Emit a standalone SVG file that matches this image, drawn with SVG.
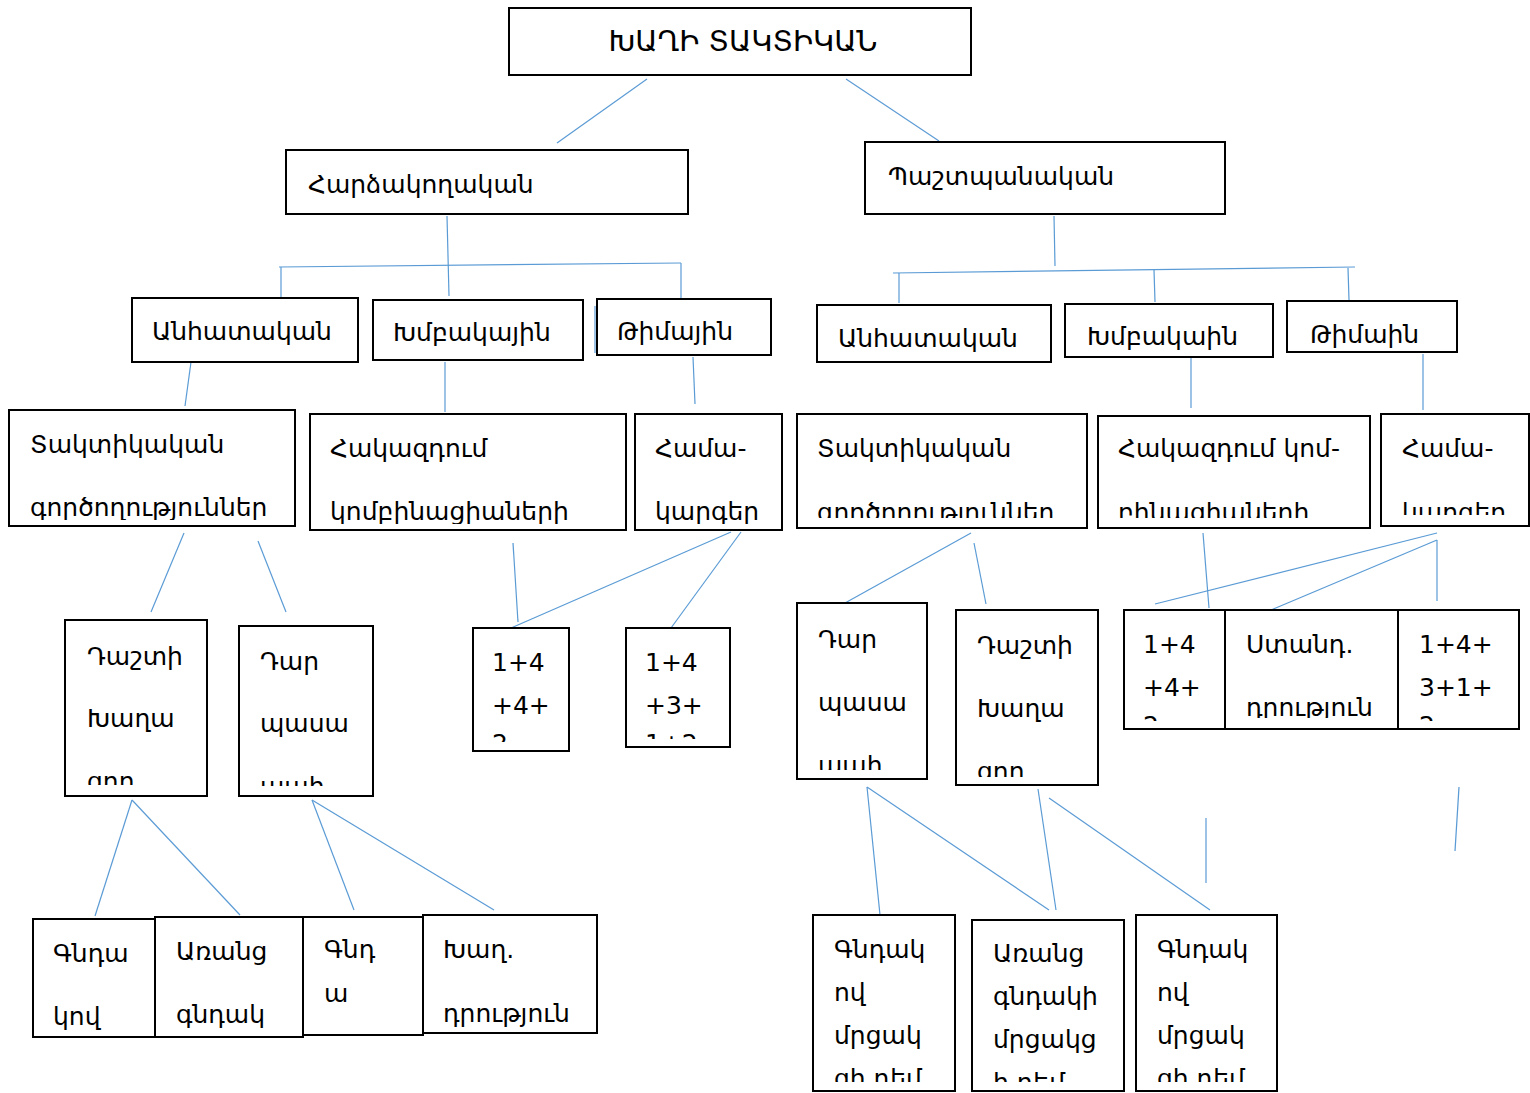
<svg xmlns="http://www.w3.org/2000/svg" width="1530" height="1093" viewBox="0 0 1530 1093">
<style>
.b{fill:#fff;stroke:#000;stroke-width:2}
.t{font-family:"DejaVu Sans","Noto Sans",sans-serif;font-size:25px;fill:#000}
.c line{stroke:#5b9bd5;stroke-width:1.2}
</style>
<defs>
<clipPath id="k1"><rect x="9" y="410" width="286" height="110"/></clipPath>
<clipPath id="k2"><rect x="310" y="414" width="316" height="110"/></clipPath>
<clipPath id="k3"><rect x="635" y="414" width="147" height="110"/></clipPath>
<clipPath id="k4"><rect x="797" y="414" width="290" height="104"/></clipPath>
<clipPath id="k5"><rect x="1098" y="416" width="272" height="102"/></clipPath>
<clipPath id="k6"><rect x="1381" y="414" width="148" height="101"/></clipPath>
<clipPath id="k7"><rect x="65" y="620" width="142" height="165"/></clipPath>
<clipPath id="k8"><rect x="239" y="626" width="134" height="160"/></clipPath>
<clipPath id="k9"><rect x="473" y="628" width="96" height="114"/></clipPath>
<clipPath id="k10"><rect x="626" y="628" width="104" height="111"/></clipPath>
<clipPath id="k11"><rect x="797" y="603" width="130" height="167"/></clipPath>
<clipPath id="k12"><rect x="956" y="610" width="142" height="167"/></clipPath>
<clipPath id="k13"><rect x="1124" y="610" width="101" height="111"/></clipPath>
<clipPath id="k14"><rect x="1225" y="610" width="173" height="108"/></clipPath>
<clipPath id="k15"><rect x="1398" y="610" width="121" height="111"/></clipPath>
<clipPath id="k16"><rect x="813" y="915" width="142" height="167"/></clipPath>
<clipPath id="k17"><rect x="972" y="920" width="152" height="162"/></clipPath>
<clipPath id="k18"><rect x="1136" y="915" width="141" height="167"/></clipPath>
</defs>

<g id="connectors" class="c">
<line x1="647" y1="79" x2="557" y2="143"/>
<line x1="846" y1="79" x2="939" y2="141"/>
<line x1="447" y1="216" x2="449" y2="296"/>
<line x1="279" y1="267" x2="681" y2="263"/>
<line x1="281" y1="267" x2="281" y2="297"/>
<line x1="681" y1="263" x2="681" y2="299"/>
<line x1="595" y1="306" x2="595" y2="353"/>
<line x1="1054" y1="216" x2="1055" y2="266"/>
<line x1="893" y1="273" x2="1355" y2="267"/>
<line x1="899" y1="273" x2="899" y2="303"/>
<line x1="1154" y1="270" x2="1155" y2="302"/>
<line x1="1348" y1="268" x2="1349" y2="300"/>
<line x1="191" y1="362" x2="185" y2="406"/>
<line x1="445" y1="362" x2="445" y2="412"/>
<line x1="693" y1="357" x2="695" y2="404"/>
<line x1="1191" y1="357" x2="1191" y2="408"/>
<line x1="1423" y1="354" x2="1423" y2="410"/>
<line x1="184" y1="533" x2="151" y2="612"/>
<line x1="258" y1="541" x2="286" y2="612"/>
<line x1="513" y1="543" x2="518" y2="622"/>
<line x1="731" y1="532" x2="511" y2="628"/>
<line x1="741" y1="532" x2="671" y2="628"/>
<line x1="971" y1="533" x2="845" y2="603"/>
<line x1="974" y1="543" x2="986" y2="604"/>
<line x1="1203" y1="533" x2="1209" y2="608"/>
<line x1="1437" y1="533" x2="1155" y2="604"/>
<line x1="1437" y1="540" x2="1271" y2="610"/>
<line x1="1437" y1="540" x2="1437" y2="601"/>
<line x1="132" y1="800" x2="95" y2="916"/>
<line x1="132" y1="800" x2="240" y2="915"/>
<line x1="312" y1="800" x2="354" y2="910"/>
<line x1="312" y1="800" x2="494" y2="910"/>
<line x1="867" y1="787" x2="880" y2="915"/>
<line x1="867" y1="787" x2="1049" y2="910"/>
<line x1="1038" y1="789" x2="1056" y2="910"/>
<line x1="1049" y1="798" x2="1210" y2="910"/>
<line x1="1206" y1="818" x2="1206" y2="883"/>
<line x1="1459" y1="787" x2="1455" y2="851"/>
</g>

<g id="root"><rect class="b" x="509" y="8" width="462" height="67"/><text class="t" x="743" y="51" text-anchor="middle" style="font-size:29px">ԽԱՂԻ ՏԱԿՏԻԿԱՆ</text></g>
<g id="attack"><rect class="b" x="286" y="150" width="402" height="64"/><text class="t" x="308" y="193">Հարձակողական</text></g>
<g id="defense"><rect class="b" x="865" y="142" width="360" height="72"/><text class="t" x="888" y="185">Պաշտպանական</text></g>

<g id="a-ind"><rect class="b" x="132" y="298" width="226" height="64"/><text class="t" x="152" y="340">Անհատական</text></g>
<g id="a-grp"><rect class="b" x="373" y="300" width="210" height="60"/><text class="t" x="393" y="341">Խմբակային</text></g>
<g id="a-team"><rect class="b" x="597" y="299" width="174" height="56"/><text class="t" x="617" y="340">Թիմային</text></g>
<g id="d-ind"><rect class="b" x="817" y="305" width="234" height="57"/><text class="t" x="838" y="347">Անհատական</text></g>
<g id="d-grp"><rect class="b" x="1065" y="304" width="208" height="53"/><text class="t" x="1087" y="345">Խմբակաին</text></g>
<g id="d-team"><rect class="b" x="1287" y="301" width="170" height="51"/><text class="t" x="1310" y="343">Թիմաին</text></g>

<g id="a-tact"><rect class="b" x="9" y="410" width="286" height="116"/><text class="t" clip-path="url(#k1)"><tspan x="30" y="453">Տակտիկական</tspan><tspan x="30" y="516">գործողություններ</tspan></text></g>
<g id="a-counter"><rect class="b" x="310" y="414" width="316" height="116"/><text class="t" clip-path="url(#k2)"><tspan x="330" y="457">Հակազդում</tspan><tspan x="330" y="520">կոմբինացիաների</tspan></text></g>
<g id="a-sys"><rect class="b" x="635" y="414" width="147" height="116"/><text class="t" clip-path="url(#k3)"><tspan x="655" y="457">Համա-</tspan><tspan x="655" y="520">կարգեր</tspan></text></g>
<g id="d-tact"><rect class="b" x="797" y="414" width="290" height="114"/><text class="t" clip-path="url(#k4)"><tspan x="817" y="457">Տակտիկական</tspan><tspan x="817" y="521">գործողություններ</tspan></text></g>
<g id="d-counter"><rect class="b" x="1098" y="416" width="272" height="112"/><text class="t" clip-path="url(#k5)"><tspan x="1118" y="457">Հակազդում կոմ-</tspan><tspan x="1118" y="521">բինացիաների</tspan></text></g>
<g id="d-sys"><rect class="b" x="1381" y="414" width="148" height="112"/><text class="t" clip-path="url(#k6)"><tspan x="1402" y="457">Համա-</tspan><tspan x="1402" y="521">կարգեր</tspan></text></g>

<g id="a-field"><rect class="b" x="65" y="620" width="142" height="176"/><text class="t" clip-path="url(#k7)"><tspan x="87" y="665">Դաշտի</tspan><tspan x="87" y="727">Խաղա</tspan><tspan x="87" y="790">ցող</tspan></text></g>
<g id="a-gk"><rect class="b" x="239" y="626" width="134" height="170"/><text class="t" clip-path="url(#k8)"><tspan x="260" y="670">Դար</tspan><tspan x="260" y="732">պասա</tspan><tspan x="260" y="795">պահ</tspan></text></g>
<g id="a-f1"><rect class="b" x="473" y="628" width="96" height="123"/><text class="t" clip-path="url(#k9)"><tspan x="492" y="671">1+4</tspan><tspan x="492" y="714">+4+</tspan><tspan x="492" y="752">2</tspan></text></g>
<g id="a-f2"><rect class="b" x="626" y="628" width="104" height="119"/><text class="t" clip-path="url(#k10)"><tspan x="645" y="671">1+4</tspan><tspan x="645" y="714">+3+</tspan><tspan x="645" y="752">1+2</tspan></text></g>
<g id="d-gk"><rect class="b" x="797" y="603" width="130" height="176"/><text class="t" clip-path="url(#k11)"><tspan x="818" y="648">Դար</tspan><tspan x="818" y="711">պասա</tspan><tspan x="818" y="774">պահ</tspan></text></g>
<g id="d-field"><rect class="b" x="956" y="610" width="142" height="175"/><text class="t" clip-path="url(#k12)"><tspan x="977" y="654">Դաշտի</tspan><tspan x="977" y="717">Խաղա</tspan><tspan x="977" y="780">ցող</tspan></text></g>
<g id="d-f1"><rect class="b" x="1124" y="610" width="101" height="119"/><text class="t" clip-path="url(#k13)"><tspan x="1143" y="653">1+4</tspan><tspan x="1143" y="696">+4+</tspan><tspan x="1143" y="734">2</tspan></text></g>
<g id="d-std"><rect class="b" x="1225" y="610" width="173" height="119"/><text class="t" clip-path="url(#k14)"><tspan x="1246" y="653">Ստանդ.</tspan><tspan x="1246" y="716">դրություն</tspan></text></g>
<g id="d-f2"><rect class="b" x="1398" y="610" width="121" height="119"/><text class="t" clip-path="url(#k15)"><tspan x="1419" y="653">1+4+</tspan><tspan x="1419" y="696">3+1+</tspan><tspan x="1419" y="734">2</tspan></text></g>

<g id="a-ball"><rect class="b" x="33" y="919" width="122" height="118"/><text class="t"><tspan x="53" y="962">Գնդա</tspan><tspan x="53" y="1025">կով</tspan></text></g>
<g id="a-noball"><rect class="b" x="155" y="917" width="148" height="120"/><text class="t"><tspan x="176" y="960">Առանց</tspan><tspan x="176" y="1023">գնդակ</tspan></text></g>
<g id="a-ball2"><rect class="b" x="303" y="917" width="120" height="118"/><text class="t"><tspan x="324" y="958">Գնդ</tspan><tspan x="324" y="1002">ա</tspan></text></g>
<g id="a-sit"><rect class="b" x="423" y="915" width="174" height="118"/><text class="t"><tspan x="443" y="958">Խաղ.</tspan><tspan x="443" y="1022">դրություն</tspan></text></g>
<g id="d-ball"><rect class="b" x="813" y="915" width="142" height="176"/><text class="t" clip-path="url(#k16)"><tspan x="834" y="958">Գնդակ</tspan><tspan x="834" y="1001">ով</tspan><tspan x="834" y="1044">մրցակ</tspan><tspan x="834" y="1087">ցի դեմ</tspan></text></g>
<g id="d-noball"><rect class="b" x="972" y="920" width="152" height="171"/><text class="t" clip-path="url(#k17)"><tspan x="993" y="962">Առանց</tspan><tspan x="993" y="1005">գնդակի</tspan><tspan x="993" y="1048">մրցակց</tspan><tspan x="993" y="1091">ի դեմ</tspan></text></g>
<g id="d-ball2"><rect class="b" x="1136" y="915" width="141" height="176"/><text class="t" clip-path="url(#k18)"><tspan x="1157" y="958">Գնդակ</tspan><tspan x="1157" y="1001">ով</tspan><tspan x="1157" y="1044">մրցակ</tspan><tspan x="1157" y="1087">ցի դեմ</tspan></text></g>
</svg>
